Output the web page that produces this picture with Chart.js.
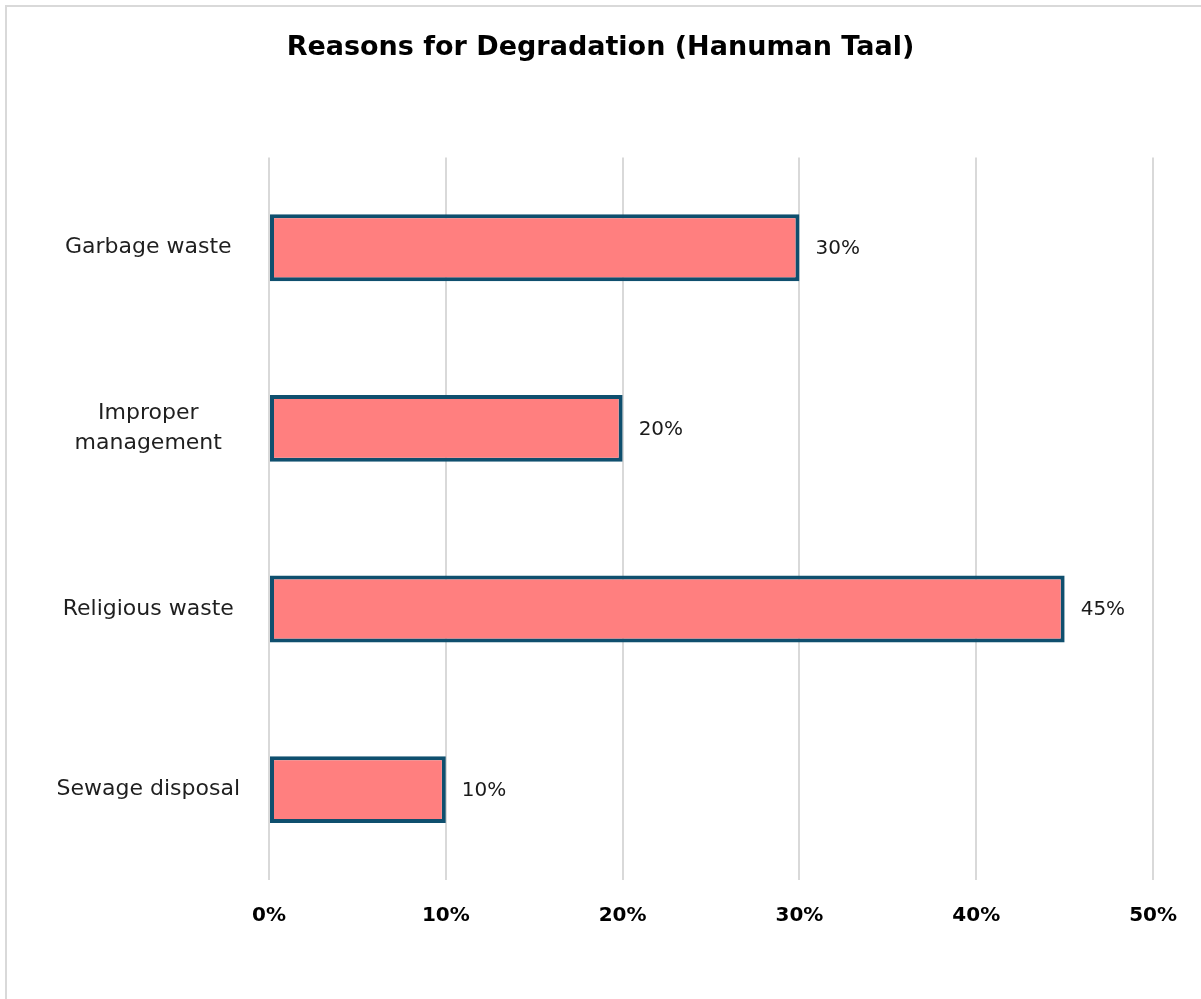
<!DOCTYPE html>
<html>
<head>
<meta charset="utf-8">
<script src="https://cdn.jsdelivr.net/npm/chart.js@4/dist/chart.umd.min.js"></script>
<style>
  html, body { margin: 0; padding: 0; background: #fff; }
  .frame {
    position: absolute; left: 5px; top: 5px; width: 1300px; height: 1100px;
    border-left: 2px solid #d9d9d9; border-top: 2px solid #d9d9d9;
  }
  #wrap { position: absolute; left: 0; top: 0; width: 1201px; height: 999px; }
</style>
</head>
<body>
<div class="frame"></div>
<div id="wrap"><canvas id="myChart"></canvas></div>
<script>
const categories = ['Garbage waste', ['Improper', 'management'], 'Religious waste', 'Sewage disposal'];
const shares = [30, 20, 45, 10];
const xTicks = [0, 10, 20, 30, 40, 50];

const FONT = '"DejaVu Sans", sans-serif';

// value labels to the right of each bar
const barValueLabels = {
  id: 'barValueLabels',
  afterDatasetsDraw(chart) {
    const ctx = chart.ctx;
    const meta = chart.getDatasetMeta(0);
    ctx.save();
    ctx.font = '20px ' + FONT;
    ctx.fillStyle = '#1a1a1a';
    ctx.textAlign = 'left';
    ctx.textBaseline = 'middle';
    meta.data.forEach((bar, i) => {
      ctx.fillText(shares[i] + '%', bar.x + 16, bar.y + 1);
    });
    ctx.restore();
  }
};

new Chart(document.getElementById('myChart'), {
  type: 'bar',
  data: {
    labels: categories,
    datasets: [{
      data: shares,
      backgroundColor: '#FF7F7F',
      borderColor: '#0F4F6E',
      borderWidth: 4,
      borderSkipped: false,
      barPercentage: 0.37,
      categoryPercentage: 1
    }]
  },
  options: {
    indexAxis: 'y',
    responsive: true,
    maintainAspectRatio: false,
    animation: false,
    layout: { padding: 0 },
    scales: {
      x: {
        min: 0,
        max: 50,
        afterBuildTicks: (axis) => { axis.ticks = xTicks.map(v => ({ value: v })); },
        afterFit: (axis) => { axis.height = 119; },
        grid: { color: '#d9d9d9', lineWidth: 2, drawTicks: false },
        border: { display: false },
        ticks: {
          padding: 24,
          color: '#000',
          font: { family: FONT, size: 20, weight: 'bold' },
          callback: (v) => v + '%'
        }
      },
      y: {
        afterFit: (axis) => { axis.width = 269; },
        grid: { display: false, drawTicks: false },
        border: { display: false },
        ticks: {
          crossAlign: 'center',
          padding: 29,
          color: '#1f1f1f',
          font: { family: FONT, size: 22, lineHeight: 1.36 }
        }
      },
      // empty right-hand strip so the plot ends short of the canvas edge
      yRight: {
        position: 'right',
        type: 'category',
        afterFit: (axis) => { axis.width = 47; },
        grid: { display: false, drawTicks: false },
        border: { display: false },
        ticks: { display: false }
      }
    },
    plugins: {
      legend: { display: false },
      tooltip: { enabled: false },
      title: {
        display: true,
        text: 'Reasons for Degradation (Hanuman Taal)',
        color: '#000',
        font: { family: FONT, size: 27, weight: 'bold', lineHeight: 1.2 },
        padding: { top: 32, bottom: 93 }
      }
    }
  },
  plugins: [barValueLabels]
});
</script>
</body>
</html>
